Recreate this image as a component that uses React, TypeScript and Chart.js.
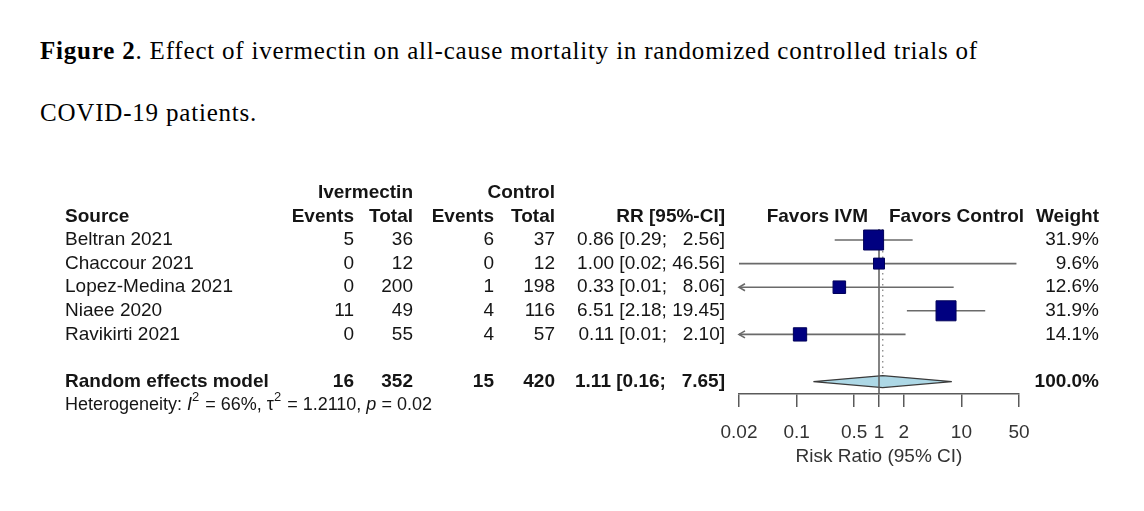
import React, { useEffect, useRef } from "react";
import { Chart, registerables } from "chart.js";

Chart.register(...registerables);

// ---------- data ----------
const studies = ["Beltran 2021", "Chaccour 2021", "Lopez-Medina 2021", "Niaee 2020", "Ravikirti 2021"];
const ivmEvents = [5, 0, 0, 11, 0];
const ivmTotal = [36, 12, 200, 49, 55];
const ctrlEvents = [6, 0, 1, 4, 4];
const ctrlTotal = [37, 12, 198, 116, 57];
const rr = [0.86, 1.0, 0.33, 6.51, 0.11];
const ciLower = [0.29, 0.02, 0.01, 2.18, 0.01];
const ciUpper = [2.56, 46.56, 8.06, 19.45, 2.1];
const weights = [31.9, 9.6, 12.6, 31.9, 14.1];

const pooledLabel = "Random effects model";
const pooledIvmEvents = 16;
const pooledIvmTotal = 352;
const pooledCtrlEvents = 15;
const pooledCtrlTotal = 420;
const pooledRR = 1.11;
const pooledLower = 0.16;
const pooledUpper = 7.65;
const pooledWeight = 100.0;

const hetI2 = 66;
const hetTau2 = "1.2110";
const hetP = "0.02";

const tickValues = [0.02, 0.1, 0.5, 1, 2, 10, 50];
const tickLabels = ["0.02", "0.1", "0.5", "1", "2", "10", "50"];

// ---------- style ----------
const SANS = "'Liberation Sans', Arial, Helvetica, sans-serif";
const FS = 19;
const TEXT = "#151515";
const POOLED_ROW = 6;
const HET_ROW = 7.0;

const fmt = (v: number) => v.toFixed(2);
const padHi = (v: number) => (v < 10 ? "  " : "") + fmt(v);
const rrText = (r: number, lo: number, hi: number) => `${fmt(r)} [${fmt(lo)}; ${padHi(hi)}]`;

const forestPlugin = {
  id: "forest",
  beforeDatasetsDraw(chart: any) {
    const { ctx, scales, chartArea } = chart;
    const xs = scales.x;
    const ys = scales.y;
    ctx.save();

    // diamond
    const yp = ys.getPixelForValue(POOLED_ROW);
    const dh = 6;
    ctx.beginPath();
    ctx.moveTo(xs.getPixelForValue(pooledLower), yp);
    ctx.lineTo(xs.getPixelForValue(pooledRR), yp - dh);
    ctx.lineTo(xs.getPixelForValue(pooledUpper), yp);
    ctx.lineTo(xs.getPixelForValue(pooledRR), yp + dh);
    ctx.closePath();
    ctx.fillStyle = "#add8e6";
    ctx.fill();
    ctx.strokeStyle = "#3a3a3a";
    ctx.lineWidth = 1.3;
    ctx.stroke();

    // dotted pooled line
    const xpool = xs.getPixelForValue(pooledRR);
    ctx.setLineDash([1.5, 4]);
    ctx.strokeStyle = "#888";
    ctx.lineWidth = 1.3;
    ctx.beginPath();
    ctx.moveTo(xpool, ys.getPixelForValue(-0.47));
    ctx.lineTo(xpool, yp - dh);
    ctx.stroke();
    ctx.setLineDash([]);

    // reference line at 1
    const x1 = xs.getPixelForValue(1);
    ctx.strokeStyle = "#5a5a5a";
    ctx.lineWidth = 1.5;
    ctx.beginPath();
    ctx.moveTo(x1, ys.getPixelForValue(-0.47));
    ctx.lineTo(x1, chartArea.bottom);
    ctx.stroke();

    // CI lines
    ctx.strokeStyle = "#6a6a6a";
    ctx.lineWidth = 1.6;
    studies.forEach((_, i) => {
      const y = ys.getPixelForValue(i);
      const lo = Math.max(ciLower[i], xs.min);
      const hi = Math.min(ciUpper[i], xs.max);
      const xa = xs.getPixelForValue(lo);
      const xb = xs.getPixelForValue(hi);
      ctx.beginPath();
      ctx.moveTo(xa, y);
      ctx.lineTo(xb, y);
      ctx.stroke();
      if (ciLower[i] < xs.min) {
        ctx.beginPath();
        ctx.moveTo(xa + 6, y - 3.5);
        ctx.lineTo(xa, y);
        ctx.lineTo(xa + 6, y + 3.5);
        ctx.stroke();
      }
      if (ciUpper[i] > xs.max) {
        ctx.beginPath();
        ctx.moveTo(xb - 6, y - 3.5);
        ctx.lineTo(xb, y);
        ctx.lineTo(xb - 6, y + 3.5);
        ctx.stroke();
      }
    });
    ctx.restore();
  },
  afterDraw(chart: any) {
    const { ctx, scales } = chart;
    const xs = scales.x;
    const ys = scales.y;
    ctx.save();
    ctx.fillStyle = TEXT;
    ctx.textBaseline = "middle";
    const bold = `bold ${FS}px ${SANS}`;
    const reg = `${FS}px ${SANS}`;
    const put = (t: string, x: number, row: number, align: CanvasTextAlign, font: string) => {
      ctx.font = font;
      ctx.textAlign = align;
      ctx.fillText(t, x, ys.getPixelForValue(row));
    };
    const cSrc = 65, cIE = 354, cIT = 413, cCE = 494, cCT = 555, cRR = 725, cW = 1099;
    const x1 = xs.getPixelForValue(1);

    // headers
    put("Ivermectin", cIT, -2, "right", bold);
    put("Control", cCT, -2, "right", bold);
    put("Source", cSrc, -1, "left", bold);
    put("Events", cIE, -1, "right", bold);
    put("Total", cIT, -1, "right", bold);
    put("Events", cCE, -1, "right", bold);
    put("Total", cCT, -1, "right", bold);
    put("RR [95%-CI]", cRR, -1, "right", bold);
    put("Favors IVM", x1 - 11, -1, "right", bold);
    put("Favors Control", x1 + 10, -1, "left", bold);
    put("Weight", cW, -1, "right", bold);

    // studies
    studies.forEach((s, i) => {
      put(s, cSrc, i, "left", reg);
      put(String(ivmEvents[i]), cIE, i, "right", reg);
      put(String(ivmTotal[i]), cIT, i, "right", reg);
      put(String(ctrlEvents[i]), cCE, i, "right", reg);
      put(String(ctrlTotal[i]), cCT, i, "right", reg);
      put(rrText(rr[i], ciLower[i], ciUpper[i]), cRR, i, "right", reg);
      put(`${weights[i].toFixed(1)}%`, cW, i, "right", reg);
    });

    // pooled
    put(pooledLabel, cSrc, POOLED_ROW, "left", bold);
    put(String(pooledIvmEvents), cIE, POOLED_ROW, "right", bold);
    put(String(pooledIvmTotal), cIT, POOLED_ROW, "right", bold);
    put(String(pooledCtrlEvents), cCE, POOLED_ROW, "right", bold);
    put(String(pooledCtrlTotal), cCT, POOLED_ROW, "right", bold);
    put(rrText(pooledRR, pooledLower, pooledUpper), cRR, POOLED_ROW, "right", bold);
    put(`${pooledWeight.toFixed(1)}%`, cW, POOLED_ROW, "right", bold);

    // heterogeneity
    const hs = 18;
    const parts: { t: string; it?: boolean; sup?: boolean }[] = [
      { t: "Heterogeneity: " },
      { t: "I", it: true },
      { t: "2", sup: true },
      { t: ` = ${hetI2}%, ` },
      { t: "\u03c4" },
      { t: "2", sup: true },
      { t: ` = ${hetTau2}, ` },
      { t: "p", it: true },
      { t: ` = ${hetP}` },
    ];
    let hx = cSrc;
    const hy = ys.getPixelForValue(HET_ROW);
    ctx.textAlign = "left";
    parts.forEach((p) => {
      const size = p.sup ? hs * 0.72 : hs;
      ctx.font = `${p.it ? "italic " : ""}${size}px ${SANS}`;
      ctx.fillText(p.t, hx, p.sup ? hy - hs * 0.42 : hy);
      hx += ctx.measureText(p.t).width + (p.sup ? 1 : 0);
    });
    ctx.restore();
  },
};

export default function App() {
  const ref = useRef<HTMLCanvasElement | null>(null);
  useEffect(() => {
    if (!ref.current) return;
    const maxW = Math.max(...weights);
    const chart = new Chart(ref.current, {
      type: "scatter",
      data: {
        datasets: [
          {
            data: studies.map((_, i) => ({ x: rr[i], y: i })),
            pointStyle: "rect",
            pointRadius: weights.map((w) => (20 * Math.sqrt(w / maxW)) / Math.SQRT2),
            pointHoverRadius: weights.map((w) => (20 * Math.sqrt(w / maxW)) / Math.SQRT2),
            backgroundColor: "#000080",
            borderColor: "#00005a",
            borderWidth: 1,
          },
        ],
      },
      options: {
        animation: false,
        responsive: true,
        maintainAspectRatio: false,
        layout: { padding: { left: 739, right: 125, top: 228.2, bottom: 0 } },
        plugins: { legend: { display: false }, tooltip: { enabled: false }, title: { display: false } },
        events: [],
        scales: {
          x: {
            type: "logarithmic",
            min: 0.02,
            max: 50,
            afterBuildTicks: (s: any) => {
              s.ticks = tickValues.map((v) => ({ value: v }));
            },
            afterFit: (s: any) => {
              s.height = 117;
            },
            ticks: {
              autoSkip: false,
              maxRotation: 0,
              padding: 14,
              color: "#333",
              font: { family: SANS, size: FS },
              callback: (v: any) => {
                const k = tickValues.indexOf(Number(v));
                return k >= 0 ? tickLabels[k] : "";
              },
            },
            grid: { display: true, drawOnChartArea: false, drawTicks: true, tickLength: 13, color: "#5a5a5a", lineWidth: 1.5 },
            border: { display: true, color: "#5a5a5a", width: 1.5 },
            title: {
              display: true,
              text: "Risk Ratio (95% CI)",
              color: "#333",
              font: { family: SANS, size: FS },
              padding: { top: 0, bottom: 42.6 },
            },
          },
          y: {
            type: "linear",
            reverse: true,
            min: -0.5,
            max: 6.525,
            display: false,
          },
        },
      },
      plugins: [forestPlugin],
    } as any);
    return () => chart.destroy();
  }, []);

  const cap: React.CSSProperties = {
    position: "absolute",
    left: 40,
    fontFamily: "'Liberation Serif', 'Times New Roman', serif",
    fontSize: 25,
    letterSpacing: "0.8px",
    lineHeight: "24px",
    whiteSpace: "nowrap",
    color: "#000",
  };

  return (
    <div style={{ position: "absolute", left: 0, top: 0, width: 1144, height: 511, background: "#fff", overflow: "hidden" }}>
      <div style={{ ...cap, top: 38.5 }}>
        <b>Figure 2</b>. Effect of ivermectin on all-cause mortality in randomized controlled trials of
      </div>
      <div style={{ ...cap, top: 100.5 }}>COVID-19 patients.</div>
      <div style={{ position: "absolute", left: 0, top: 0, width: 1144, height: 511 }}>
        <canvas ref={ref} />
      </div>
    </div>
  );
}
